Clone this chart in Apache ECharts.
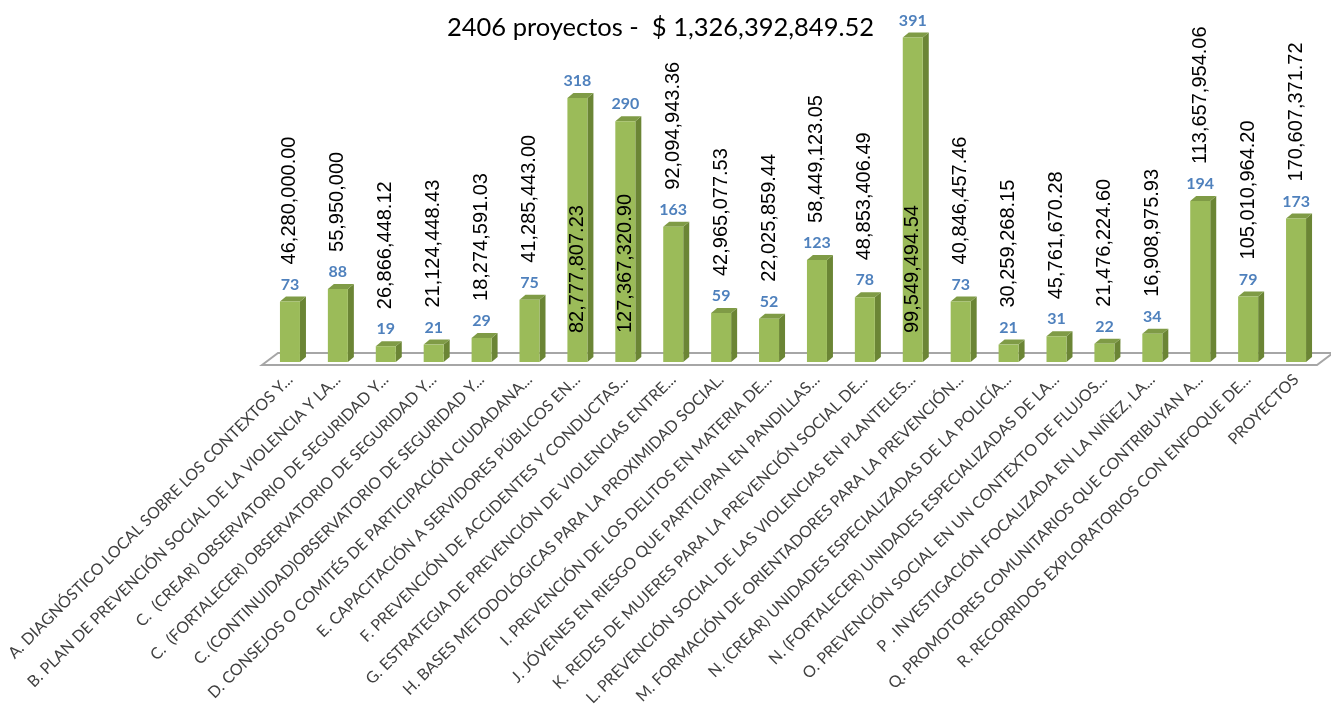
<!DOCTYPE html>
<html><head><meta charset="utf-8">
<script src="https://cdn.jsdelivr.net/npm/echarts@6/dist/echarts.min.js"></script>
<style>html,body{margin:0;padding:0;background:#fff}#c{width:1331px;height:717px}</style>
</head><body><div id="c"></div>
<script>
const titleText = '2406 proyectos -  $ 1,326,392,849.52';
const categories = [
  'A. DIAGNÓSTICO LOCAL SOBRE LOS CONTEXTOS Y...',
  'B. PLAN DE PREVENCIÓN SOCIAL DE LA VIOLENCIA Y LA...',
  'C.  (CREAR) OBSERVATORIO DE SEGURIDAD Y...',
  'C.  (FORTALECER) OBSERVATORIO DE SEGURIDAD Y...',
  'C. (CONTINUIDAD)OBSERVATORIO DE SEGURIDAD Y...',
  'D. CONSEJOS O COMITÉS DE PARTICIPACIÓN CIUDADANA...',
  'E. CAPACITACIÓN A SERVIDORES PÚBLICOS EN...',
  'F. PREVENCIÓN DE ACCIDENTES Y CONDUCTAS...',
  'G. ESTRATEGIA DE PREVENCIÓN DE VIOLENCIAS ENTRE...',
  'H. BASES METODOLÓGICAS PARA LA PROXIMIDAD SOCIAL.',
  'I. PREVENCIÓN DE LOS DELITOS EN MATERIA DE...',
  'J. JÓVENES EN RIESGO QUE PARTICIPAN EN PANDILLAS...',
  'K. REDES DE MUJERES PARA LA PREVENCIÓN SOCIAL DE...',
  'L. PREVENCIÓN SOCIAL DE LAS VIOLENCIAS EN PLANTELES...',
  'M. FORMACIÓN DE ORIENTADORES PARA LA PREVENCIÓN...',
  'N. (CREAR) UNIDADES ESPECIALIZADAS DE LA POLICÍA...',
  'N. (FORTALECER) UNIDADES ESPECIALIZADAS DE LA...',
  'O. PREVENCIÓN SOCIAL EN UN CONTEXTO DE FLUJOS...',
  'P . INVESTIGACIÓN FOCALIZADA EN LA NIÑEZ, LA...',
  'Q. PROMOTORES COMUNITARIOS QUE CONTRIBUYAN A...',
  'R. RECORRIDOS EXPLORATORIOS CON ENFOQUE DE...',
  'PROYECTOS'
];
const proyectos = [73, 88, 19, 21, 29, 75, 318, 290, 163, 59, 52, 123, 78, 391, 73, 21, 31, 22, 34, 194, 79, 173];
const montos = [
  '46,280,000.00', '55,950,000', '26,866,448.12', '21,124,448.43', '18,274,591.03',
  '41,285,443.00', '82,777,807.23', '127,367,320.90', '92,094,943.36', '42,965,077.53',
  '22,025,859.44', '58,449,123.05', '48,853,406.49', '99,549,494.54', '40,846,457.46',
  '30,259,268.15', '45,761,670.28', '21,476,224.60', '16,908,975.93', '113,657,954.06',
  '105,010,964.20', '170,607,371.72'
];

const FRONT = '#9BBB59', SIDE = '#6B8535', TOP = '#7F9B46';
const BW = 20, DX = 6, DY = 5;

function render3D(params, api) {
  const idx = api.value(0), v = api.value(1);
  const b = api.coord([idx, 0]), t = api.coord([idx, v]);
  const x0 = b[0] - BW / 2, x1 = b[0] + BW / 2, yb = b[1], yt = t[1];
  return {
    type: 'group',
    children: [
      { type: 'polygon', shape: { points: [[x1, yb], [x1 + DX, yb - DY], [x1 + DX, yt - DY], [x1, yt]] }, style: { fill: SIDE } },
      { type: 'polygon', shape: { points: [[x0, yt], [x0 + DX, yt - DY], [x1 + DX, yt - DY], [x1, yt]] }, style: { fill: TOP } },
      { type: 'rect', shape: { x: x0, y: yt, width: BW, height: yb - yt }, style: { fill: FRONT } }
    ]
  };
}
function renderFloor(params, api) {
  const cs = params.coordSys;
  const gx = cs.x, gb = cs.y + cs.height, gr = cs.x + cs.width;
  return {
    type: 'polygon',
    shape: { points: [[gx - 4, gb + 3], [gx + 12, gb - 9], [gr + 13, gb - 9], [gr - 3, gb + 3]] },
    style: { fill: '#FFFFFF', stroke: '#A6A6A6', lineWidth: 2 }
  };
}

const chart = echarts.init(document.getElementById('c'), null, { renderer: 'canvas' });
chart.setOption({
  animation: false,
  title: {
    text: titleText, left: 442, top: 10,
    textStyle: { fontFamily: 'Lato', fontSize: 25.5, fontWeight: 'normal', color: '#000' }
  },
  grid: { left: 266, right: 11, top: 30, bottom: 355, outerBoundsMode: 'none', containLabel: false },
  xAxis: {
    type: 'category', data: categories,
    axisLine: { show: false }, axisTick: { show: false },
    axisLabel: { interval: 0, rotate: 45, fontFamily: 'Lato', fontSize: 16, color: '#404040', margin: 15 }
  },
  yAxis: { type: 'value', min: 0, max: 400, show: false, splitLine: { show: false } },
  series: [
    {
      type: 'custom', renderItem: renderFloor, data: [[0, 0]], z: 1, silent: true
    },
    {
      type: 'custom', renderItem: render3D, z: 2,
      data: proyectos.map((v, i) => [i, v])
    },
    {
      type: 'bar', data: proyectos, barWidth: BW, barGap: '-100%', z: 3,
      itemStyle: { color: 'rgba(0,0,0,0)' },
      label: { show: true, position: 'top', distance: 9, color: '#4F81BD', fontWeight: 'bold', fontSize: 16, fontFamily: 'Lato' }
    },
    {
      type: 'bar', barWidth: BW, barGap: '-100%', z: 4,
      itemStyle: { color: 'rgba(0,0,0,0)' },
      data: proyectos.map(v => v > 250
        ? { value: v, label: { position: 'insideBottom', distance: 29 } }
        : { value: v }),
      label: {
        show: true, position: 'top', distance: 37, rotate: 90, align: 'left', verticalAlign: 'middle',
        fontFamily: 'Liberation Sans', fontSize: 20, color: '#000',
        formatter: p => montos[p.dataIndex]
      }
    }
  ]
});
</script>
</body></html>
